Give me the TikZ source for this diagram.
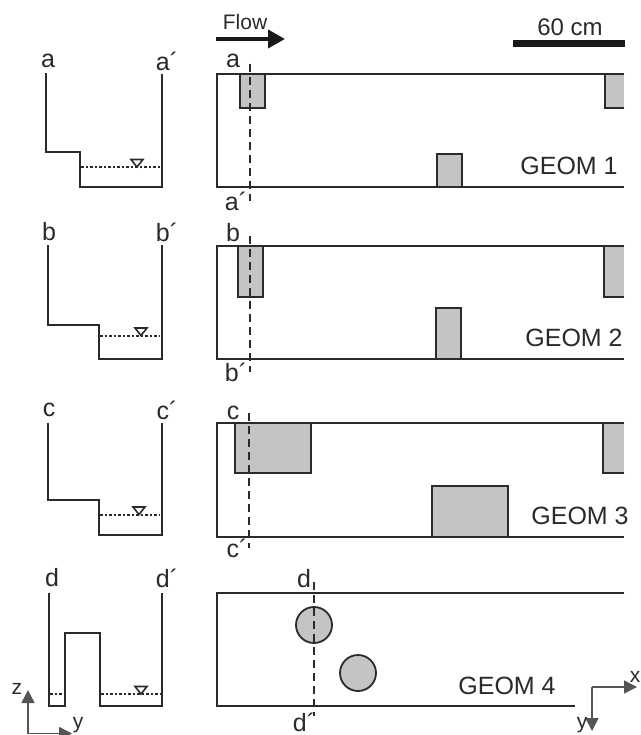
\documentclass[tikz,border=0pt]{standalone}
\usepackage{fontspec}
\setmainfont{Liberation Sans}
\usetikzlibrary{arrows.meta}
\definecolor{ink}{HTML}{2A2A2A}
\definecolor{blockgray}{HTML}{C4C4C4}
\tikzset{
  x=1pt,y=-1pt,
  wall/.style={draw=ink,line width=1.8pt,line join=miter},
  block/.style={draw=ink,line width=1.8pt,fill=blockgray},
  water/.style={draw=ink,line width=2pt,dash pattern=on 2.5pt off 2pt},
  section/.style={draw=ink,line width=1.8pt,dash pattern=on 8pt off 5pt},
  lab/.style={inner sep=0pt,text=ink,font=\fontsize{25}{27}\selectfont},
  geom/.style={inner sep=0pt,text=ink,font=\fontsize{25}{27}\selectfont},
  scalelab/.style={inner sep=0pt,text=ink,font=\fontsize{24}{26}\selectfont},
  small/.style={inner sep=0pt,text=ink,font=\fontsize{21}{23}\selectfont},
  axis/.style={draw=ink!80,line width=1.5pt,-{Triangle[length=13pt,width=13pt,inset=0pt]}},
  wl/.style={draw=ink,line width=1.6pt,line join=miter}
}
\newcommand{\wlmark}[2]{\draw[wl] (#1-6,#2-7.5) -- (#1+6,#2-7.5) -- (#1,#2) -- cycle;}
\begin{document}
\begin{tikzpicture}
\useasboundingbox (0,0) rectangle (640,735);
% Top
\node[small] (flowlab) at (245,22) {Flow};
\coordinate (f1) at (216,39); \coordinate (f2) at (285,39);
\draw[line width=4pt,black!90,-{Triangle[length=17pt,width=18pt,inset=0pt]}] (f1) -- (f2);
\node[scalelab] (scale) at (570,27) {60 cm};
\coordinate (s1) at (513,44); \coordinate (s2) at (625,44);
\draw[line width=7pt,black!90] (s1) -- (s2);
% Row 1
\node[lab] (a) at (48,61) {a}; \node[lab] (ap) at (167,61) {a´};
\draw[wall] (46,73) -- (46,152) -- (80,152) -- (80,187) -- (162,187) -- (162,74);
\draw[water] (81,167.5) -- (160,167.5); \wlmark{137}{167}
\draw[block] (240,74) rectangle (265,108);
\fill[blockgray] (605.8,75) rectangle (624,107.2);
\draw[block,fill=none] (624,108) -- (605,108) -- (605,74);
\draw[block] (437,187) rectangle (462,154);
\draw[wall] (624,74) -- (217,74) -- (217,187) -- (624,187);
\coordinate (a1) at (250,64); \coordinate (a2) at (250,201);
\draw[section] (a1) -- (a2);
\node[lab] (ra) at (233,61) {a}; \node[lab] (rap) at (236,201) {a´};
\node[geom] (g1) at (569,166) {GEOM 1};
% Row 2
\node[lab] (b) at (49,232) {b}; \node[lab] (bp) at (167,232) {b´};
\draw[wall] (48,245) -- (48,325) -- (99,325) -- (99,359) -- (162,359) -- (162,245);
\draw[water] (100,336) -- (160,336); \wlmark{141}{335.5}
\draw[block] (238,246) rectangle (263,297);
\fill[blockgray] (604,246) rectangle (624,296);
\draw[block,fill=none] (624,297) -- (604,297) -- (604,246);
\draw[block] (436,359) rectangle (461,308);
\draw[wall] (624,246) -- (217,246) -- (217,359) -- (624,359);
\coordinate (b1) at (250,236); \coordinate (b2) at (250,372);
\draw[section] (b1) -- (b2);
\node[lab] (rb) at (233,233) {b}; \node[lab] (rbp) at (236,372) {b´};
\node[geom] (g2) at (574,338) {GEOM 2};
% Row 3
\node[lab] (c) at (49,410) {c}; \node[lab] (cp) at (167,410) {c´};
\draw[wall] (48,423) -- (48,500) -- (99,500) -- (99,535) -- (162,535) -- (162,423);
\draw[water] (100,515) -- (160,515); \wlmark{139}{514.5}
\draw[block] (235,423) rectangle (311,473);
\fill[blockgray] (603,424) rectangle (624,472);
\draw[block,fill=none] (624,473) -- (603,473) -- (603,423);
\draw[block] (432,537) rectangle (508,486);
\draw[wall] (624,423) -- (217,423) -- (217,537) -- (624,537);
\coordinate (c1) at (249,413); \coordinate (c2) at (249,548);
\draw[section] (c1) -- (c2);
\node[lab] (rc) at (233,413) {c}; \node[lab] (rcp) at (237,548) {c´};
\node[geom] (g3) at (580,516) {GEOM 3};
% Row 4
\node[lab] (d) at (52,578) {d}; \node[lab] (dp) at (167,578) {d´};
\draw[wall] (49,593) -- (49,706) -- (65,706) -- (65,633) -- (100,633) -- (100,706) -- (162,706) -- (162,593);
\draw[water] (50,693.5) -- (64,693.5); \draw[water] (101,693.5) -- (160,693.5); \wlmark{141}{694}
\draw[wall] (624,593) -- (217,593) -- (217,706) -- (575,706);
\node[circle,draw=ink,line width=1.8pt,fill=blockgray,minimum size=36pt,inner sep=0pt] (cone) at (314,625) {};
\node[circle,draw=ink,line width=1.8pt,fill=blockgray,minimum size=36pt,inner sep=0pt] (ctwo) at (358,673) {};
\coordinate (d1) at (314,582); \coordinate (d2) at (314,716);
\draw[section] (d1) -- (d2);
\node[lab] (rd) at (304,579) {d}; \node[lab] (rdp) at (304,722) {d´};
\node[geom] (g4) at (507,686) {GEOM 4};
% Axes left
\coordinate (ol) at (28,733.5); \coordinate (zt) at (28,690); \coordinate (yt) at (72,733.5);
\draw[axis] (ol) -- (zt); \draw[axis] (ol) -- (yt);
\node[small] (zl) at (17,689) {z}; \node[small] (yl) at (78,725) {y};
% Axes right
\coordinate (or) at (592,687); \coordinate (xr) at (637,687); \coordinate (yr) at (592,731);
\draw[axis] (or) -- (xr); \draw[axis] (or) -- (yr);
\node[small] (xl) at (635,677) {x}; \node[small] (yl2) at (582,725) {y};
\end{tikzpicture}
\end{document}
